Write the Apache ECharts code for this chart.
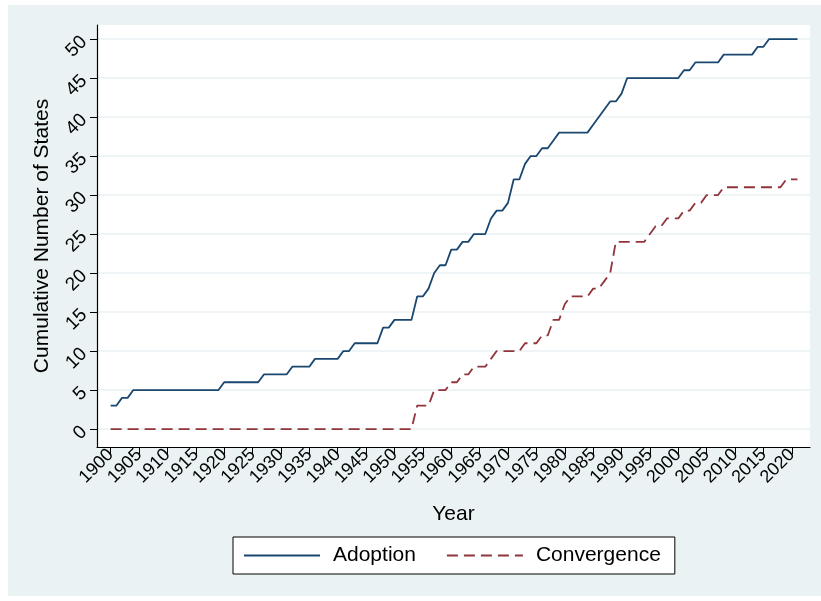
<!DOCTYPE html>
<html>
<head>
<meta charset="utf-8">
<script src="https://cdn.jsdelivr.net/npm/echarts@6/dist/echarts.min.js"></script>
<style>
html,body{margin:0;padding:0;background:#ffffff;}
#chart{width:821px;height:601px;}
</style>
</head>
<body>
<div id="chart"></div>
<script>
const years = [1900,1901,1902,1903,1904,1905,1906,1907,1908,1909,1910,1911,1912,1913,1914,1915,1916,1917,1918,1919,
1920,1921,1922,1923,1924,1925,1926,1927,1928,1929,1930,1931,1932,1933,1934,1935,1936,1937,1938,1939,
1940,1941,1942,1943,1944,1945,1946,1947,1948,1949,1950,1951,1952,1953,1954,1955,1956,1957,1958,1959,
1960,1961,1962,1963,1964,1965,1966,1967,1968,1969,1970,1971,1972,1973,1974,1975,1976,1977,1978,1979,
1980,1981,1982,1983,1984,1985,1986,1987,1988,1989,1990,1991,1992,1993,1994,1995,1996,1997,1998,1999,
2000,2001,2002,2003,2004,2005,2006,2007,2008,2009,2010,2011,2012,2013,2014,2015,2016,2017,2018,2019,
2020,2021];
const adoption = [3,3,4,4,5,5,5,5,5,5,5,5,5,5,5,5,5,5,5,5,
6,6,6,6,6,6,6,7,7,7,7,7,8,8,8,8,9,9,9,9,
9,10,10,11,11,11,11,11,13,13,14,14,14,14,17,17,18,20,21,21,
23,23,24,24,25,25,25,27,28,28,29,32,32,34,35,35,36,36,37,38,
38,38,38,38,38,39,40,41,42,42,43,45,45,45,45,45,45,45,45,45,
45,46,46,47,47,47,47,47,48,48,48,48,48,48,49,49,50,50,50,50,
50,50];
const convergence = [0,0,0,0,0,0,0,0,0,0,0,0,0,0,0,0,0,0,0,0,
0,0,0,0,0,0,0,0,0,0,0,0,0,0,0,0,0,0,0,0,
0,0,0,0,0,0,0,0,0,0,0,0,0,0,3,3,3,5,5,5,
6,6,7,7,8,8,8,9,10,10,10,10,10,11,11,11,12,12,14,14,
16,17,17,17,17,18,18,19,20,24,24,24,24,24,24,25,26,26,27,27,
27,28,28,29,29,30,30,30,31,31,31,31,31,31,31,31,31,31,31,32,
32,32];
const xTicks = [1900,1905,1910,1915,1920,1925,1930,1935,1940,1945,1950,1955,1960,1965,1970,1975,1980,1985,1990,1995,2000,2005,2010,2015,2020];
const yTicks = [0,5,10,15,20,25,30,35,40,45,50];
const seriesNames = ['Adoption','Convergence'];

const chart = echarts.init(document.getElementById('chart'), null, {renderer:'canvas'});
const font = 'Liberation Sans, Arial, Helvetica, sans-serif';
const pair = arr => years.map((y,i)=>[y,arr[i]]);
const plain = v => String(v);

chart.setOption({
  backgroundColor:'#ffffff',
  animation:false,
  graphic:[{type:'rect', z:-10, silent:true, shape:{x:8,y:5,width:813,height:591}, style:{fill:'#EAF2F3'}}],
  grid:{left:97, right:11, top:25, bottom:154, show:true, backgroundColor:'#ffffff', borderWidth:0},
  xAxis:{
    type:'value', min:1897.6, max:2023.2,
    name:'Year', nameLocation:'middle', nameGap:57,
    nameTextStyle:{fontFamily:font, fontSize:21, color:'#000'},
    axisLine:{show:true, onZero:false, lineStyle:{color:'#000', width:1.2}},
    axisTick:{show:true, length:7, customValues:xTicks, lineStyle:{color:'#000', width:1}},
    axisLabel:{customValues:xTicks, formatter:plain, rotate:45, fontFamily:font, fontSize:18, color:'#000', margin:5},
    splitLine:{show:false}
  },
  yAxis:{
    type:'value', min:-2.3, max:51.8,
    name:'Cumulative Number of States', nameLocation:'middle', nameGap:44, nameRotate:90,
    nameTextStyle:{fontFamily:font, fontSize:21, color:'#000'},
    axisLine:{show:true, onZero:false, lineStyle:{color:'#000', width:1.2}},
    axisTick:{show:true, length:7, customValues:yTicks, lineStyle:{color:'#000', width:1}},
    axisLabel:{customValues:yTicks, formatter:plain, rotate:45, fontFamily:font, fontSize:19, color:'#000', margin:13},
    splitLine:{show:true, lineStyle:{color:'#EAF2F3', width:1.5}}
  },
  legend:{
    left:233, top:537, orient:'horizontal',
    padding:[8,14,8,10], itemWidth:76, itemHeight:20, itemGap:30,
    backgroundColor:'#ffffff', borderColor:'#000', borderWidth:1, borderRadius:0,
    itemStyle:{opacity:0},
    textStyle:{fontFamily:font, fontSize:21, color:'#000', padding:[0,0,0,8]},
    data:seriesNames
  },
  series:[
    {name:seriesNames[0], type:'line', data:pair(adoption), symbol:'none', showSymbol:false,
     lineStyle:{color:'#1A476F', width:1.8}, itemStyle:{color:'#1A476F'}},
    {name:seriesNames[1], type:'line', data:pair(convergence), symbol:'none', showSymbol:false,
     lineStyle:{color:'#90353B', width:1.8, type:[11,6]}, itemStyle:{color:'#90353B'}}
  ]
});
</script>
</body>
</html>
